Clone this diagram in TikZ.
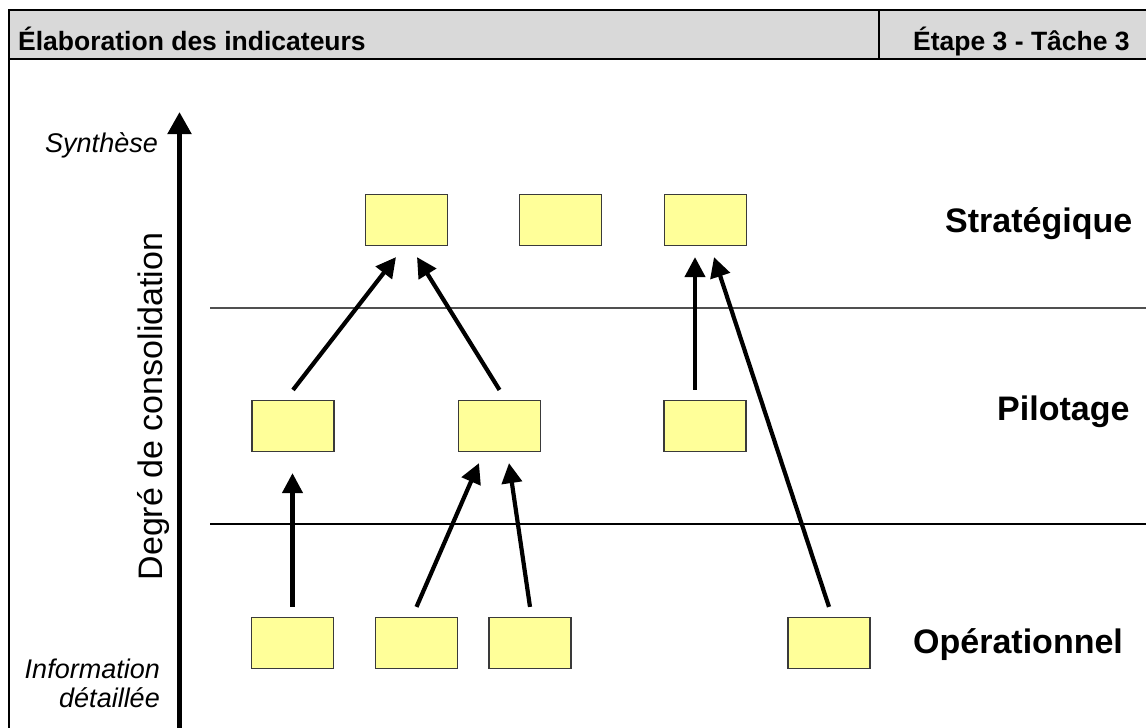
\documentclass[tikz,border=0pt]{standalone}
\usepackage{fontspec}
\setmainfont{Liberation Sans}
\usetikzlibrary{arrows.meta,calc}
\definecolor{boxfill}{HTML}{FFFF99}
\definecolor{boxedge}{HTML}{3A3A3A}
\definecolor{headfill}{HTML}{D9D9D9}
\definecolor{sepline}{HTML}{505050}
\begin{document}
\begin{tikzpicture}[x=1pt,y=-1pt,
  ind/.style={draw=boxedge,fill=boxfill,line width=1.2pt,minimum width=82pt,minimum height=51pt,inner sep=0pt},
  link/.style={line width=4.2pt,-{Triangle[length=20pt,width=20pt]}},
  level/.style={font=\bfseries\fontsize{34}{40}\selectfont,anchor=base west,inner sep=0pt},
  side/.style={font=\itshape\fontsize{27}{32}\selectfont,anchor=base east,inner sep=0pt},
  headtxt/.style={font=\bfseries\fontsize{26.5}{32}\selectfont,anchor=base west,inner sep=0pt},
  frame/.style={line width=2pt,black}]
\useasboundingbox (0,0) rectangle (1146,728);
% header
\fill[headfill] (9,10) rectangle (1150,59);
\draw[frame] (1150,10) -- (9,10) -- (9,730);
\draw[frame] (9,59) -- (1150,59);
\draw[frame] (879,10) -- (879,59);
\node[headtxt] (title) at (18,50) {Élaboration des indicateurs};
\node[headtxt] (step3) at (913,50) {Étape 3 - Tâche 3};
% separators
\draw[sepline,line width=1.3pt] (210,308) -- (1150,308);
\draw[black,line width=1.2pt] (210,524) -- (1150,524);
% axis
\coordinate (axbot) at (179.5,730);
\coordinate (axtop) at (179.5,112);
\draw[line width=5pt,-{Triangle[length=22pt,width=23pt]}] (axbot) -- (axtop);
\node[side] (synth) at (158,152) {Synthèse};
\node[side] (info1) at (160,678) {Information};
\node[side] (info2) at (160,707) {détaillée};
\node[font=\fontsize{34}{40}\selectfont,rotate=90,anchor=base,inner sep=0pt] (degre) at (162,406.5) {Degré de consolidation};
% boxes
\node[ind] (s1) at (406.5,220) {};
\node[ind] (s2) at (560.5,220) {};
\node[ind] (s3) at (705.5,220) {};
\node[ind] (p1) at (293,426) {};
\node[ind] (p2) at (499.5,426) {};
\node[ind] (p3) at (705,426) {};
\node[ind] (o1) at (292.5,643) {};
\node[ind] (o2) at (416.5,643) {};
\node[ind] (o3) at (530,643) {};
\node[ind] (o4) at (829,643) {};
% level labels
\node[level] (lstrat) at (945,232) {Stratégique};
\node[level] (lpilot) at (997,420) {Pilotage};
\node[level] (loper) at (913,653) {Opérationnel};
% arrows
\draw[link] ($(p1.north)+(0,-10)$) -- ($(s1.south)+(-10.5,11)$);
\draw[link] ($(p2.north)+(0,-10)$) -- ($(s1.south)+(10.5,11)$);
\draw[link] ($(o1.north)+(0,-10)$) -- ($(p1.south)+(-0.5,21)$);
\draw[link] ($(o2.north)+(0,-10)$) -- ($(p2.south)+(-20.5,11)$);
\draw[link] ($(o3.north)+(0,-10)$) -- ($(p2.south)+(9.5,11)$);
\draw[link] ($(p3.north)+(-10,-10)$) -- ($(s3.south)+(-10.5,11)$);
\draw[link] ($(o4.north)+(0,-10)$) -- ($(s3.south)+(8.5,11)$);
\end{tikzpicture}
\end{document}
